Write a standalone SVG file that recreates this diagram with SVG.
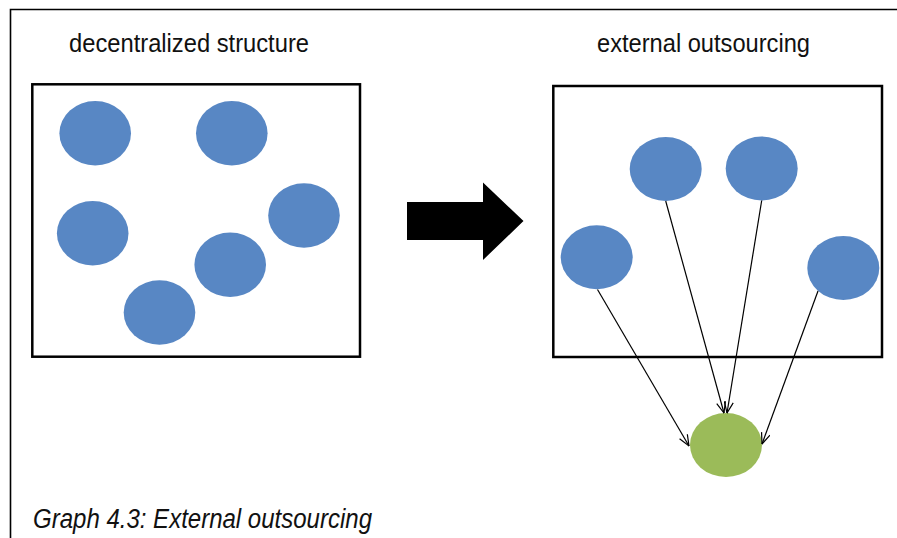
<svg xmlns="http://www.w3.org/2000/svg" width="897" height="538" viewBox="0 0 897 538">
<style>
.t{font-family:"Liberation Sans",Arial,sans-serif;fill:#111;}
.box{fill:none;stroke:#000;stroke-width:2.5;}
.b{fill:#5887c4;}
.g{fill:#9bbb59;}
.c{stroke:#000;stroke-width:1.2;fill:none;marker-end:url(#ah);}
</style>
<defs>
<marker id="ah" viewBox="0 0 12 10" refX="11.5" refY="5" markerWidth="12" markerHeight="10" markerUnits="userSpaceOnUse" orient="auto">
<path d="M0.5,0.5 L11.5,5 L0.5,9.5" fill="none" stroke="#000" stroke-width="1.2"/>
</marker>
</defs>
<rect width="897" height="538" fill="#fff"/>
<path d="M10.5,538 V9.5 H897" fill="none" stroke="#000" stroke-width="1.6"/>
<text class="t" x="69" y="52" font-size="25.5" textLength="240" lengthAdjust="spacingAndGlyphs">decentralized structure</text>
<text class="t" x="597" y="52" font-size="25.5" textLength="213" lengthAdjust="spacingAndGlyphs">external outsourcing</text>
<text class="t" x="33" y="528" font-size="27" font-style="italic" textLength="339" lengthAdjust="spacingAndGlyphs">Graph 4.3: External outsourcing</text>
<g id="left-box">
<rect class="box" x="32.3" y="84.3" width="327.7" height="272.4"/>
</g>
<g id="l1"><ellipse class="b" cx="95.2" cy="133.2" rx="35.8" ry="32.2"/></g>
<g id="l2"><ellipse class="b" cx="231.8" cy="133.2" rx="35.8" ry="32.2"/></g>
<g id="l3"><ellipse class="b" cx="92.7" cy="233.2" rx="35.8" ry="32.2"/></g>
<g id="l4"><ellipse class="b" cx="304" cy="215.5" rx="35.8" ry="32.2"/></g>
<g id="l5"><ellipse class="b" cx="230.2" cy="264.8" rx="35.8" ry="32.2"/></g>
<g id="l6"><ellipse class="b" cx="159.5" cy="312.5" rx="35.8" ry="32.2"/></g>
<g id="big-arrow">
<polygon points="407,202 483,202 483,182.5 523.5,221 483,260 483,240 407,240" fill="#000"/>
</g>
<g id="right-box">
<rect class="box" x="553.3" y="86" width="328.7" height="271"/>
</g>
<g id="r1"><ellipse class="b" cx="596.7" cy="257.3" rx="36" ry="32"/></g>
<g id="r2"><ellipse class="b" cx="665.7" cy="169" rx="36" ry="32"/></g>
<g id="r3"><ellipse class="b" cx="761.7" cy="168.5" rx="36" ry="32"/></g>
<g id="r4"><ellipse class="b" cx="843.3" cy="268" rx="36" ry="32"/></g>
<g id="target"><ellipse class="g" cx="726" cy="445" rx="36" ry="32"/></g>
<g id="connectors">
<line class="c" x1="597.5" y1="289.5" x2="689" y2="446"/>
<line class="c" x1="665.7" y1="201" x2="724" y2="413"/>
<line class="c" x1="761.7" y1="200.5" x2="727" y2="413"/>
<line class="c" x1="818" y1="291" x2="762" y2="444"/>
</g>
</svg>
